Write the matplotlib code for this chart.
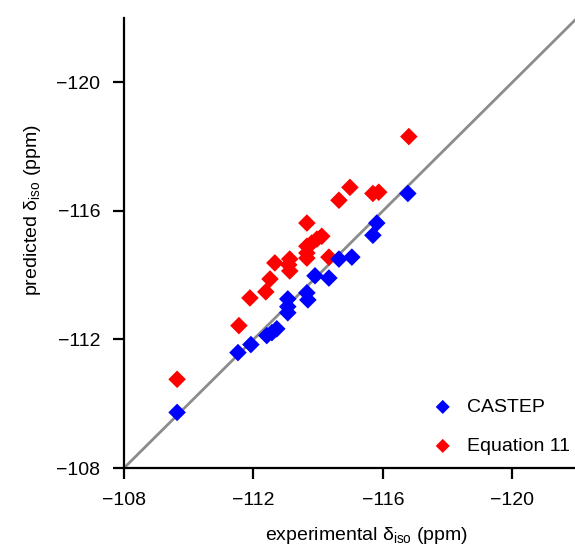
import matplotlib.pyplot as plt

plt.rcParams['font.family'] = ['Liberation Sans', 'DejaVu Sans']
plt.rcParams['mathtext.default'] = 'regular'

# CASTEP predictions
castep_exp = [-109.64, -111.52, -111.92, -112.41, -112.57, -112.72, -113.06, -113.06,
              -113.06, -113.65, -113.68, -113.90, -114.33, -114.64, -115.04, -115.69,
              -115.81, -116.77]
castep_pred = [-109.73, -111.59, -111.84, -112.12, -112.21, -112.33, -113.26, -113.02,
               -112.83, -113.45, -113.23, -113.98, -113.91, -114.50, -114.56, -115.24,
               -115.62, -116.54]

# Equation 11 predictions
eq11_exp = [-109.64, -111.55, -111.89, -112.38, -112.51, -112.66, -113.12, -113.09,
            -113.12, -113.65, -113.65, -113.65, -113.65, -113.80, -113.96, -114.11,
            -114.33, -114.64, -114.98, -115.69, -115.87, -116.80]
eq11_pred = [-110.76, -112.43, -113.29, -113.48, -113.88, -114.38, -114.50, -114.32,
             -114.13, -115.62, -114.90, -114.69, -114.53, -115.00, -115.12, -115.21,
             -114.56, -116.33, -116.73, -116.54, -116.58, -118.31]

lims = [-108, -122]
ticks = [-108, -112, -116, -120]

fig = plt.figure(figsize=(5.75, 5.51), dpi=100)
ax = fig.add_axes([0.2157, 0.1506, 0.7880, 0.8168])

ax.plot(lims, lims, color='#8c8c8c', lw=2, zorder=1)
ax.scatter(castep_exp, castep_pred, marker='D', s=80, color='#0000ff',
           edgecolors='none', label='CASTEP', zorder=3)
ax.scatter(eq11_exp, eq11_pred, marker='D', s=80, color='#ff0000',
           edgecolors='none', label='Equation 11', zorder=2)

ax.set_xlim(lims)
ax.set_ylim(lims)
ax.set_xticks(ticks)
ax.set_yticks(ticks)
ax.set_xticklabels(['\u2212%d' % -t for t in ticks])
ax.set_yticklabels(['\u2212%d' % -t for t in ticks])

ax.spines['top'].set_visible(False)
ax.spines['right'].set_visible(False)
for s in ['left', 'bottom']:
    ax.spines[s].set_linewidth(1.6)
ax.tick_params(direction='out', length=8, width=1.6, labelsize=14, pad=9)

ax.set_xlabel('experimental δ$_{iso}$ (ppm)', fontsize=14, labelpad=12)
ax.set_ylabel('predicted δ$_{iso}$ (ppm)', fontsize=14, labelpad=10)
ax.xaxis.label.set_x(0.536)
ax.yaxis.label.set_y(0.573)

ax.legend(loc='lower right', frameon=False, fontsize=14, labelspacing=1.1,
          handletextpad=0.25, markerscale=0.8, bbox_to_anchor=(1.023, -0.01))

fig.savefig('out.png', dpi=100)
